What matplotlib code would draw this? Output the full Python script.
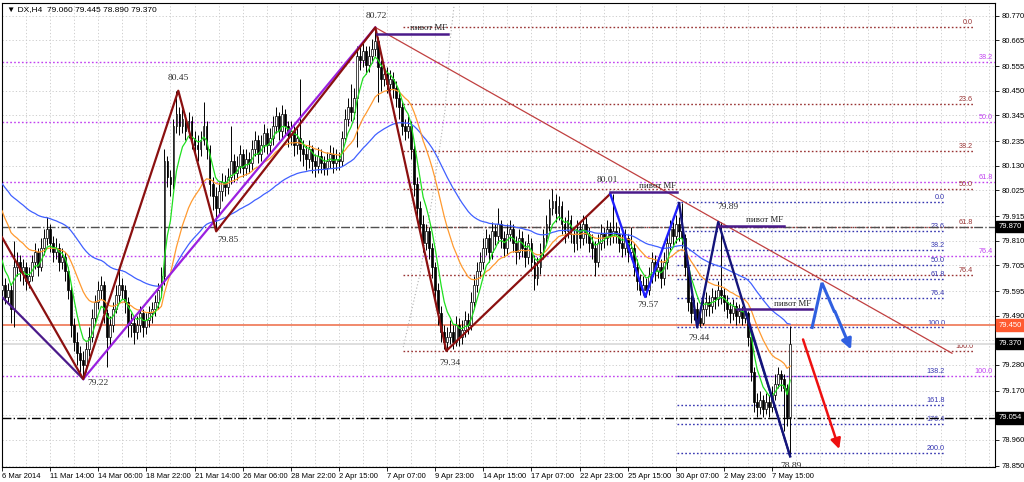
import matplotlib
matplotlib.use('Agg')
import matplotlib.pyplot as plt
import matplotlib.transforms as mtransforms
import numpy as np

# DX H4 candles, open of each bar = close of the bar before
first_open = 79.60
closes = [
    79.62, 79.57, 79.60, 79.52, 79.70, 79.72, 79.68, 79.70, 79.64, 79.66,
    79.72, 79.76, 79.70, 79.78, 79.82, 79.86, 79.80, 79.76, 79.78, 79.72,
    79.74, 79.68, 79.60, 79.45, 79.38, 79.33, 79.30, 79.28, 79.35, 79.40,
    79.48, 79.55, 79.60, 79.62, 79.50, 79.40, 79.45, 79.52, 79.58, 79.62,
    79.60, 79.55, 79.45, 79.46, 79.42, 79.45, 79.50, 79.44, 79.47, 79.50,
    79.52, 79.55, 79.60, 79.66, 80.15, 80.08, 80.05, 80.30, 80.35, 80.30,
    80.33, 80.28, 80.32, 80.25, 80.22, 80.20, 80.24, 80.30, 80.20, 80.05,
    80.00, 79.95, 80.02, 80.06, 80.04, 80.08, 80.15, 80.10, 80.13, 80.18,
    80.12, 80.16, 80.14, 80.20, 80.24, 80.18, 80.22, 80.27, 80.22, 80.25,
    80.30, 80.34, 80.28, 80.35, 80.30, 80.26, 80.28, 80.22, 80.25, 80.20,
    80.18, 80.16, 80.20, 80.15, 80.13, 80.17, 80.14, 80.12, 80.15, 80.18,
    80.14, 80.16, 80.15, 80.25, 80.33, 80.38, 80.36, 80.42, 80.60, 80.58,
    80.62, 80.56, 80.60, 80.63, 80.66, 80.55, 80.50, 80.52, 80.48, 80.50,
    80.46, 80.42, 80.38, 80.30, 80.28, 80.30, 80.20, 80.05, 79.95, 79.88,
    79.80, 79.85, 79.78, 79.70, 79.60, 79.50, 79.42, 79.38, 79.40, 79.42,
    79.38, 79.45, 79.40, 79.43, 79.47, 79.45, 79.55, 79.62, 79.68, 79.72,
    79.78, 79.82, 79.76, 79.85, 79.83, 79.88, 79.82, 79.78, 79.84, 79.86,
    79.80, 79.76, 79.82, 79.78, 79.74, 79.80, 79.72, 79.65, 79.70, 79.76,
    79.82, 79.88, 79.95, 79.98, 79.93, 79.96, 79.88, 79.85, 79.90, 79.84,
    79.80, 79.86, 79.82, 79.88, 79.84, 79.80, 79.78, 79.72, 79.80, 79.84,
    79.82, 79.86, 79.83, 79.85, 79.84, 79.80, 79.78, 79.82, 79.76, 79.78,
    79.70, 79.64, 79.60, 79.62, 79.60, 79.66, 79.72, 79.68, 79.70, 79.65,
    79.72, 79.80, 79.86, 79.83, 79.88, 79.85, 79.82, 79.70, 79.55, 79.50,
    79.52, 79.48, 79.46, 79.52, 79.55, 79.53, 79.57, 79.56, 79.60, 79.58,
    79.55, 79.52, 79.50, 79.53, 79.49, 79.51, 79.48, 79.50, 79.40, 79.25,
    79.12, 79.10, 79.13, 79.09, 79.12, 79.10, 79.15, 79.20, 79.24, 79.22,
    79.18, 79.06, 79.37,
]
highs = [
    79.66, 79.65, 79.63, 79.62, 79.81, 79.76, 79.75, 79.73, 79.72, 79.70,
    79.75, 79.80, 79.78, 79.82, 79.86, 79.91, 79.88, 79.83, 79.82, 79.80,
    79.78, 79.76, 79.70, 79.62, 79.48, 79.42, 79.36, 79.34, 79.38, 79.44,
    79.52, 79.58, 79.64, 79.66, 79.64, 79.52, 79.49, 79.55, 79.62, 79.70,
    79.65, 79.62, 79.57, 79.50, 79.48, 79.49, 79.53, 79.52, 79.50, 79.53,
    79.55, 79.58, 79.63, 79.70, 80.20, 80.17, 80.11, 80.33, 80.45, 80.38,
    80.37, 80.35, 80.36, 80.34, 80.28, 80.26, 80.28, 80.40, 80.32, 80.22,
    80.08, 80.04, 80.06, 80.10, 80.09, 80.12, 80.30, 80.18, 80.17, 80.22,
    80.20, 80.20, 80.19, 80.24, 80.28, 80.26, 80.26, 80.31, 80.29, 80.29,
    80.34, 80.38, 80.36, 80.39, 80.37, 80.32, 80.32, 80.30, 80.29, 80.50,
    80.24, 80.22, 80.24, 80.22, 80.18, 80.21, 80.20, 80.17, 80.19, 80.22,
    80.21, 80.20, 80.19, 80.28, 80.37, 80.42, 80.48, 80.46, 80.64, 80.64,
    80.66, 80.64, 80.64, 80.67, 80.72, 80.68, 80.58, 80.56, 80.55, 80.54,
    80.53, 80.49, 80.45, 80.40, 80.33, 80.34, 80.32, 80.22, 80.08, 79.98,
    79.92, 79.88, 79.87, 79.80, 79.72, 79.63, 79.53, 79.45, 79.44, 79.47,
    79.45, 79.49, 79.48, 79.47, 79.51, 79.50, 79.59, 79.66, 79.72, 79.76,
    79.82, 79.86, 79.84, 79.89, 79.88, 79.95, 79.90, 79.85, 79.88, 79.90,
    79.88, 79.83, 79.86, 79.85, 79.81, 79.84, 79.82, 79.75, 79.74, 79.80,
    79.86, 79.92, 79.99, 80.03, 80.01, 80.00, 79.98, 79.91, 79.94, 79.92,
    79.87, 79.90, 79.89, 79.92, 79.91, 79.87, 79.84, 79.81, 79.84, 79.88,
    79.87, 79.90, 79.89, 80.01, 79.89, 79.87, 79.84, 79.86, 79.84, 79.87,
    79.80, 79.73, 79.67, 79.66, 79.65, 79.70, 79.76, 79.75, 79.74, 79.73,
    79.76, 79.84, 79.90, 79.89, 79.92, 79.91, 79.97, 79.84, 79.72, 79.58,
    79.56, 79.55, 79.52, 79.56, 79.59, 79.58, 79.61, 79.60, 79.64, 79.89,
    79.61, 79.58, 79.55, 79.56, 79.55, 79.54, 79.53, 79.52, 79.51, 79.42,
    79.27, 79.16, 79.17, 79.15, 79.16, 79.15, 79.19, 79.24, 79.27, 79.26,
    79.24, 79.20, 79.445,
]
lows = [
    79.56, 79.54, 79.55, 79.46, 79.44, 79.66, 79.64, 79.62, 79.60, 79.61,
    79.64, 79.69, 79.66, 79.68, 79.75, 79.79, 79.76, 79.72, 79.73, 79.68,
    79.69, 79.64, 79.56, 79.40, 79.34, 79.28, 79.25, 79.22, 79.25, 79.32,
    79.38, 79.45, 79.52, 79.56, 79.46, 79.27, 79.36, 79.42, 79.50, 79.55,
    79.56, 79.50, 79.40, 79.40, 79.37, 79.39, 79.42, 79.40, 79.41, 79.44,
    79.46, 79.49, 79.52, 79.57, 79.62, 80.04, 80.00, 80.03, 80.27, 80.26,
    80.27, 80.24, 80.25, 80.20, 80.17, 80.15, 80.17, 80.22, 80.16, 80.00,
    79.94, 79.85, 79.92, 79.98, 80.00, 80.01, 80.05, 80.06, 80.07, 80.10,
    80.08, 80.09, 80.10, 80.11, 80.17, 80.14, 80.15, 80.19, 80.18, 80.19,
    80.22, 80.27, 80.24, 80.25, 80.26, 80.21, 80.22, 80.17, 80.18, 80.15,
    80.13, 80.11, 80.12, 80.10, 80.08, 80.10, 80.10, 80.09, 80.09, 80.12,
    80.10, 80.11, 80.11, 80.13, 80.23, 80.30, 80.32, 80.33, 80.21, 80.54,
    80.55, 80.52, 80.53, 80.57, 80.60, 80.40, 80.45, 80.47, 80.44, 80.45,
    80.42, 80.38, 80.33, 80.26, 80.24, 80.25, 80.16, 80.00, 79.90, 79.84,
    79.76, 79.77, 79.73, 79.65, 79.55, 79.45, 79.38, 79.35, 79.34, 79.37,
    79.35, 79.36, 79.36, 79.37, 79.40, 79.41, 79.43, 79.52, 79.59, 79.65,
    79.69, 79.75, 79.72, 79.73, 79.79, 79.80, 79.78, 79.74, 79.75, 79.81,
    79.76, 79.71, 79.73, 79.74, 79.70, 79.71, 79.68, 79.60, 79.62, 79.67,
    79.73, 79.79, 79.85, 79.92, 79.89, 79.90, 79.84, 79.80, 79.82, 79.80,
    79.76, 79.77, 79.78, 79.79, 79.80, 79.76, 79.73, 79.66, 79.70, 79.77,
    79.78, 79.79, 79.79, 79.80, 79.80, 79.76, 79.74, 79.75, 79.72, 79.73,
    79.66, 79.60, 79.58, 79.58, 79.57, 79.58, 79.63, 79.64, 79.65, 79.61,
    79.62, 79.69, 79.77, 79.79, 79.80, 79.81, 79.78, 79.66, 79.51, 79.46,
    79.47, 79.45, 79.44, 79.45, 79.49, 79.49, 79.50, 79.52, 79.53, 79.54,
    79.51, 79.48, 79.46, 79.47, 79.45, 79.46, 79.45, 79.46, 79.36, 79.21,
    79.08, 79.06, 79.07, 79.06, 79.07, 79.06, 79.08, 79.13, 79.18, 79.17,
    79.00, 79.02, 78.89,
]

time_labels = ['6 Mar 2014', '11 Mar 14:00', '14 Mar 06:00', '18 Mar 22:00',
               '21 Mar 14:00', '26 Mar 06:00', '28 Mar 22:00', '2 Apr 15:00',
               '7 Apr 07:00', '9 Apr 23:00', '14 Apr 15:00', '17 Apr 07:00',
               '22 Apr 23:00', '25 Apr 15:00', '30 Apr 07:00', '2 May 23:00',
               '7 May 15:00']
price_ticks = [80.770, 80.665, 80.555, 80.450, 80.345, 80.235, 80.130, 80.025,
               79.915, 79.810, 79.705, 79.595, 79.490, 79.385, 79.280, 79.170,
               79.065, 78.960, 78.850]

# moving averages (values at the left edge)
green_span, green_start = 6, 79.77
orange_span, orange_start = 21, 79.97
blue_span, blue_start = 55, 80.07

# zigzag pivots (bar index, price)
maroon_zz_x = [0, 27, 58.6, 71.2, 124.1, 147.7, 202.2]
maroon_zz_y = [79.825, 79.22, 80.45, 79.85, 80.72, 79.34, 80.01]
indigo_zz_x = [0, 27]
indigo_zz_y = [79.57, 79.22]
violet_zz_x = [27, 124.1]
violet_zz_y = [79.22, 80.72]
blue_zz_x = [202.2, 213.8, 225.1]
blue_zz_y = [80.01, 79.57, 79.97]
navy_zz_x = [225.1, 231.1, 238.1, 262]
navy_zz_y = [79.97, 79.44, 79.89, 78.89]
trend_x = [124.1, 315.8]
trend_y = [80.72, 79.33]

# fibonacci grids: (price at 0, price at 100)
fib_maroon = (80.72, 79.34)
fib_maroon_levels = [0.0, 23.6, 38.2, 50.0, 61.8, 76.4, 100.0]
fib_violet = (81.40, 79.233)
fib_violet_levels = [38.2, 50.0, 61.8, 76.4, 100.0]
fib_blue = (79.977, 79.440)
fib_blue_levels = [0.0, 23.6, 38.2, 50.0, 61.8, 76.4, 100.0, 138.2, 161.8, 176.4, 200.0]

# MF pivots: start bar, end bar, price
pivot_start = [124.7, 202.2, 238.1, 244.4]
pivot_end = [148.3, 224.4, 260.0, 269.3]
pivot_price = [80.694, 80.017, 79.874, 79.517]

zz_labels = ['80.72', '80.45', '79.85', '79.22', '79.34', '80.01', '79.57', '79.89', '79.44', '78.89']
zz_label_x = [124.4, 58.6, 75.2, 32.0, 149.0, 201.2, 214.8, 241.4, 231.7, 262.3]
zz_label_y = [80.769, 80.504, 79.813, 79.203, 79.288, 80.069, 79.536, 79.953, 79.395, 78.848]


def ema(values, span, start):
    a = 2.0 / (span + 1)
    out, v = [], start
    for x in values:
        v = v + a * (x - v)
        out.append(v)
    return out


closes = np.array(closes)
highs = np.array(highs)
lows = np.array(lows)
opens = np.concatenate([[first_open], closes[:-1]])
idx = np.arange(len(closes))

fig = plt.figure(figsize=(10.24, 4.82), dpi=100)
ax = fig.add_axes([2 / 1024, 15 / 482, 993 / 1024, 464 / 482])
ax.set_xlim(0.1, 330.1)
ax.set_ylim(78.8446, 80.8242)

# grid
for p in price_ticks:
    ax.axhline(p, color='#c8c8c8', lw=0.6, ls=(0, (1.5, 2.5)), zorder=0)
for k in range(8, 336, 8):
    ax.axvline(k, color='#c8c8c8', lw=0.6, ls=(0, (1.5, 2.5)), zorder=0)

# fibo grids
def draw_fib(anchor, levels, x0, x1, color, label_x):
    top, bottom = anchor
    for lv in levels:
        p = top - (top - bottom) * lv / 100
        ax.plot([x0, x1], [p, p], color=color, lw=1.0, ls=(0, (1.2, 1.6)), zorder=1)
        ax.text(label_x, p + 0.004, '%.1f' % lv, color=color, fontsize=5.2,
                family='Liberation Sans', ha='right', va='bottom', zorder=1)

draw_fib(fib_violet, fib_violet_levels, 0, 331, '#c040f0', 329.3)
draw_fib(fib_maroon, fib_maroon_levels, 133.4, 322.9, '#993333', 322.8)
draw_fib(fib_blue, fib_blue_levels, 224.4, 313.6, '#3535b0', 313.5)

# special horizontal lines
ax.axhline(79.870, color='#505050', lw=1.0, ls='-.', zorder=1)
ax.axhline(79.054, color='black', lw=1.0, ls='-.', zorder=1)
ax.axhline(79.450, color='#f08060', lw=1.3, zorder=1)
ax.axhline(79.370, color='#d8d8d8', lw=1.2, zorder=1)

# gray dotted arc
ax.plot([133.4, 139.0, 143.3, 147.3, 149.0, 150.3],
        [79.356, 79.672, 80.014, 80.368, 80.667, 80.816],
        color='#b0b0b0', lw=0.8, ls=(0, (1, 2)), zorder=1)

# candles
ax.vlines(idx, lows, highs, color='black', lw=0.7, zorder=2)
up = closes >= opens
body_lo = np.minimum(opens, closes)
body_h = np.maximum(np.abs(closes - opens), 0.004)
ax.bar(idx[up], body_h[up], bottom=body_lo[up], width=0.62, color='white',
       edgecolor='black', linewidth=0.5, zorder=3)
ax.bar(idx[~up], body_h[~up], bottom=body_lo[~up], width=0.62, color='black',
       edgecolor='black', linewidth=0.5, zorder=3)

# moving averages
ax.plot(idx, ema(closes, blue_span, blue_start), color='#4060ff', lw=0.9, zorder=4)
ax.plot(idx, ema(closes, orange_span, orange_start), color='#ff9a30', lw=0.9, zorder=4)
ax.plot(idx, ema(closes, green_span, green_start), color='#20e020', lw=0.9, zorder=4)

# zigzags and trend line
ax.plot(trend_x, trend_y, color='#c04040', lw=0.9, zorder=5)
ax.plot(indigo_zz_x, indigo_zz_y, color='#4b1a8a', lw=1.6, zorder=5)
ax.plot(violet_zz_x, violet_zz_y, color='#9a20e0', lw=1.6, zorder=5)
ax.plot(maroon_zz_x, maroon_zz_y, color='#8b1010', lw=1.6, zorder=6)
ax.plot(blue_zz_x, blue_zz_y, color='#2020ff', lw=1.7, zorder=6)
ax.plot(navy_zz_x, navy_zz_y, color='#14147a', lw=1.7, zorder=6)
ax.plot([246.7, 262], [79.52, 78.89], color='#14147a', lw=1.4, zorder=6)

# MF pivots
for x0, x1, p in zip(pivot_start, pivot_end, pivot_price):
    ax.plot([x0, x1], [p, p], color='#4b1a8a', lw=1.8, zorder=6)
    ax.text(x1 - 0.3, p + 0.008, 'пивот MF', fontsize=6.3, family='Liberation Serif',
            color='#202020', ha='right', va='bottom', zorder=7)

# forecast arrows
ax.annotate('', xy=(282.6, 79.335), xytext=(276.5, 79.52),
            arrowprops=dict(arrowstyle='-|>,head_length=0.6,head_width=0.3', color='#3060e0', lw=2.2),
            zorder=7)
ax.plot([269.3, 272.6, 276.6], [79.44, 79.63, 79.51], color='#3060e0', lw=2.2,
        solid_joinstyle='miter', zorder=7)
ax.annotate('', xy=(278.6, 78.91), xytext=(266.0, 79.40),
            arrowprops=dict(arrowstyle='-|>,head_length=0.6,head_width=0.3', color='#ee1010', lw=1.8),
            zorder=7)

# zigzag price labels
for t, x, y in zip(zz_labels, zz_label_x, zz_label_y):
    ax.text(x, y, t, fontsize=6.8, family='Liberation Serif', color='#303030',
            ha='center', va='center', zorder=8, clip_on=False)

# axes styling
for s in ax.spines.values():
    s.set_color('black')
    s.set_linewidth(0.8)
ax.yaxis.tick_right()
ax.set_yticks(price_ticks)
ax.set_yticklabels(['' if p in (79.385, 79.065) else '%.3f' % p for p in price_ticks])
ax.tick_params(axis='y', direction='out', length=3, width=0.6, pad=2, labelsize=5.5)
ax.set_xticks(np.arange(0, 16 * len(time_labels), 16))
ax.set_xticklabels(time_labels)
ax.tick_params(axis='x', direction='out', length=3, width=0.6, pad=1.5, labelsize=5.5)
for lab in ax.get_xticklabels():
    lab.set_horizontalalignment('left')
for lab in ax.get_xticklabels() + ax.get_yticklabels():
    lab.set_family('Liberation Sans')

# price boxes on the axis
trans = mtransforms.blended_transform_factory(ax.transAxes, ax.transData)
for p, txt, fc in [(79.870, '79.870', 'black'), (79.450, '79.450', '#ff5a30'),
                   (79.370, '79.370', 'black'), (79.054, '79.054', 'black')]:
    ax.text(1.0035, p, txt, transform=trans, ha='left', va='center', fontsize=5.5,
            family='Liberation Sans', color='white', clip_on=False, zorder=9,
            bbox=dict(boxstyle='square,pad=0.28', fc=fc, ec=fc))

fig.text(7 / 1024, 1 - 10 / 482, '\u25bc DX,H4  79.060 79.445 78.890 79.370', fontsize=6,
         family=['Liberation Sans', 'DejaVu Sans'], va='center', ha='left')

fig.savefig('out.png', dpi=100, facecolor='white')
